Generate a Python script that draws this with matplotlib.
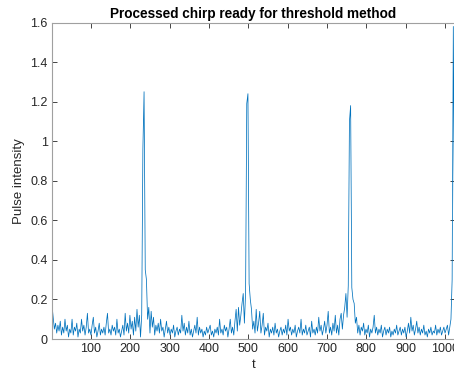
import matplotlib
matplotlib.use("Agg")
import matplotlib.pyplot as plt
from matplotlib.ticker import FixedLocator, FixedFormatter

# sample index (every 3rd sample of 1..1024)
t_values = list(range(1, 1025, 3))

intensity = [
    0.17, 0.11, 0.05, 0.08, 0.03, 0.07, 0.04, 0.09, 0.02, 0.06,
    0.03, 0.10, 0.04, 0.07, 0.01, 0.05, 0.03, 0.10, 0.02, 0.06,
    0.04, 0.08, 0.01, 0.05, 0.03, 0.10, 0.04, 0.07, 0.02, 0.06,
    0.13, 0.03, 0.05, 0.02, 0.07, 0.11, 0.03, 0.06, 0.01, 0.04,
    0.08, 0.02, 0.05, 0.03, 0.06, 0.02, 0.08, 0.13, 0.03, 0.05,
    0.02, 0.07, 0.04, 0.06, 0.02, 0.10, 0.03, 0.05, 0.01, 0.04,
    0.07, 0.02, 0.13, 0.04, 0.08, 0.03, 0.12, 0.05, 0.09, 0.02,
    0.11, 0.04, 0.15, 0.06, 0.12, 0.01, 0.12, 0.96, 1.25, 0.35,
    0.30, 0.10, 0.16, 0.03, 0.14, 0.06, 0.11, 0.02, 0.07, 0.04,
    0.08, 0.03, 0.10, 0.04, 0.06, 0.01, 0.05, 0.09, 0.03, 0.06,
    0.02, 0.05, 0.03, 0.07, 0.01, 0.04, 0.06, 0.02, 0.05, 0.03,
    0.12, 0.04, 0.08, 0.02, 0.06, 0.03, 0.09, 0.02, 0.05, 0.01,
    0.04, 0.07, 0.03, 0.11, 0.02, 0.06, 0.03, 0.05, 0.01, 0.04,
    0.02, 0.06, 0.03, 0.05, 0.07, 0.02, 0.04, 0.01, 0.05, 0.03,
    0.06, 0.02, 0.10, 0.03, 0.05, 0.02, 0.07, 0.04, 0.06, 0.01,
    0.05, 0.10, 0.03, 0.06, 0.02, 0.09, 0.15, 0.04, 0.16, 0.07,
    0.12, 0.18, 0.23, 0.08, 0.23, 1.19, 1.24, 0.28, 0.20, 0.15,
    0.05, 0.09, 0.03, 0.15, 0.04, 0.08, 0.14, 0.03, 0.07, 0.13,
    0.02, 0.06, 0.04, 0.08, 0.01, 0.05, 0.03, 0.06, 0.02, 0.08,
    0.03, 0.05, 0.01, 0.04, 0.06, 0.02, 0.05, 0.03, 0.07, 0.02,
    0.10, 0.04, 0.06, 0.02, 0.05, 0.03, 0.07, 0.01, 0.04, 0.06,
    0.03, 0.10, 0.02, 0.05, 0.03, 0.07, 0.02, 0.04, 0.06, 0.01,
    0.09, 0.03, 0.05, 0.02, 0.06, 0.03, 0.11, 0.04, 0.07, 0.02,
    0.05, 0.09, 0.03, 0.07, 0.14, 0.03, 0.06, 0.02, 0.08, 0.04,
    0.12, 0.03, 0.07, 0.02, 0.10, 0.13, 0.05, 0.12, 0.16, 0.23,
    0.11, 0.27, 1.10, 1.18, 0.26, 0.20, 0.18, 0.08, 0.11, 0.03,
    0.07, 0.02, 0.06, 0.04, 0.08, 0.02, 0.05, 0.03, 0.07, 0.01,
    0.05, 0.03, 0.06, 0.12, 0.03, 0.06, 0.02, 0.05, 0.03, 0.07,
    0.01, 0.04, 0.06, 0.02, 0.05, 0.03, 0.06, 0.01, 0.04, 0.02,
    0.05, 0.03, 0.07, 0.02, 0.04, 0.06, 0.02, 0.05, 0.03, 0.06,
    0.01, 0.04, 0.08, 0.03, 0.11, 0.04, 0.07, 0.02, 0.05, 0.09,
    0.03, 0.06, 0.02, 0.05, 0.03, 0.07, 0.02, 0.04, 0.01, 0.05,
    0.03, 0.06, 0.02, 0.04, 0.03, 0.07, 0.02, 0.05, 0.03, 0.06,
    0.02, 0.04, 0.06, 0.03, 0.05, 0.07, 0.02, 0.06, 0.10, 0.30,
    1.58, 0.55,
]
assert len(intensity) == len(t_values)

x_ticks = [100, 200, 300, 400, 500, 600, 700, 800, 900, 1000]
y_ticks = [0, 0.2, 0.4, 0.6, 0.8, 1.0, 1.2, 1.4, 1.6]
y_tick_labels = ["0", "0.2", "0.4", "0.6", "0.8", "1", "1.2", "1.4", "1.6"]

plt.rcParams['font.family'] = ['Liberation Sans', 'DejaVu Sans']

axis_col = '#262626'
fig = plt.figure(figsize=(4.54, 3.76), dpi=100)
ax = fig.add_axes([52 / 454, 37 / 376, 402.5 / 454, 316.5 / 376])
ax.plot(t_values, intensity, color='#0072BD', linewidth=0.55)
ax.set_xlim(1, 1024)
ax.set_ylim(0, 1.6)
ax.xaxis.set_major_locator(FixedLocator(x_ticks))
ax.yaxis.set_major_locator(FixedLocator(y_ticks))
ax.yaxis.set_major_formatter(FixedFormatter(y_tick_labels))
ax.tick_params(direction='in', length=3.5, width=0.6, top=True, right=True,
               labelsize=9, colors=axis_col, pad=3)
for s in ax.spines.values():
    s.set_color('#a0a0a0')
    s.set_linewidth(0.8)
ax.set_title('Processed chirp ready for threshold method', fontsize=9.8,
             fontweight='bold', color='black', pad=3)
ax.set_xlabel('t', fontsize=9.5, color=axis_col, labelpad=3)
ax.set_ylabel('Pulse intensity', fontsize=9.5, color=axis_col, labelpad=4)
fig.savefig('out.png', dpi=100)
